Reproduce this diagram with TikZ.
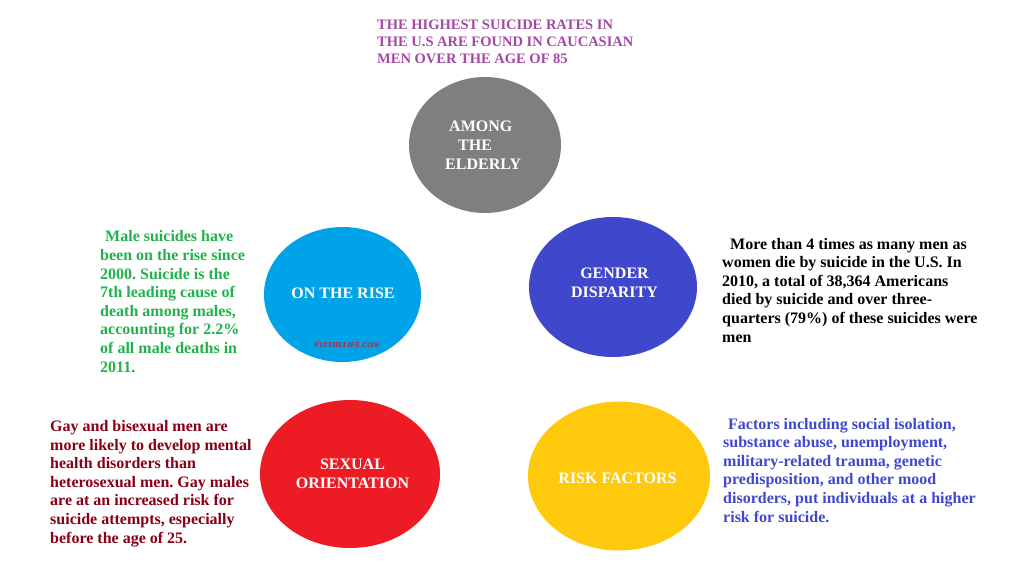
\documentclass[tikz,border=0pt]{standalone}
\usepackage{fontspec}
\setmainfont{Liberation Serif}
\usetikzlibrary{shapes.geometric}
\frenchspacing
\definecolor{elderlygray}{RGB}{127,127,127}
\definecolor{riseblue}{RGB}{0,162,232}
\definecolor{genderblue}{RGB}{63,72,204}
\definecolor{orientred}{RGB}{237,28,36}
\definecolor{riskyellow}{RGB}{255,201,14}
\definecolor{topviolet}{RGB}{163,73,164}
\definecolor{risegreen}{RGB}{34,177,76}
\definecolor{orientmaroon}{RGB}{136,0,21}
\definecolor{markred}{RGB}{200,30,50}
\begin{document}
\begin{tikzpicture}[x=1pt,y=-1pt,
  blob/.style={ellipse,inner sep=0pt},
  tag/.style={text=white,font=\fontsize{16}{19}\selectfont\bfseries,align=center,inner sep=0pt,anchor=base},
  note/.style={font=\fontsize{16}{18.6}\selectfont\bfseries,align=left,inner sep=0pt,anchor=base west}]
\useasboundingbox (0,0) rectangle (1024,570);

\node[blob,fill=elderlygray,minimum width=152,minimum height=136] (elderly) at (485,145) {};
\node[blob,fill=riseblue,minimum width=157,minimum height=135] (rise) at (342.5,294.5) {};
\node[blob,fill=genderblue,minimum width=168,minimum height=140] (gender) at (613,287) {};
\node[blob,fill=orientred,minimum width=180,minimum height=148] (orient) at (350,474) {};
\node[blob,fill=riskyellow,minimum width=182,minimum height=149] (risk) at (619,476) {};

\node[tag,anchor=base west,align=left] (elderlytxt) at (445,169) {\hspace*{4pt}AMONG\\\hspace*{13pt}THE\\ELDERLY};
\node[tag] (risetxt) at (343,298) {ON THE RISE};
\node[tag] (gendertxt) at (614.5,297) {GENDER\\DISPARITY};
\node[tag] (orienttxt) at (352.5,488) {SEXUAL\\ORIENTATION};
\node[tag] (risktxt) at (617.5,483) {RISK FACTORS};
\node[inner sep=0pt,anchor=base,text=markred,font=\fontsize{7.5}{9}\selectfont\bfseries\itshape] (mark) at (347,347) {FIXTHELIFE.COM};

\node[note,text=topviolet,font=\fontsize{14.5}{17}\selectfont\bfseries] (toptxt) at (377,63) {THE HIGHEST SUICIDE RATES IN\\THE U.S ARE FOUND IN CAUCASIAN\\MEN OVER THE AGE OF 85};
\node[note,text=risegreen] (risenote) at (100,372) {\hspace*{5pt}Male suicides have\\been on the rise since\\2000. Suicide is the\\7th leading cause of\\death among males,\\accounting for 2.2\%\\of all male deaths in\\2011.};
\node[note,text=black] (gendernote) at (722,342) {\hspace*{8pt}More than 4 times as many men as\\women die by suicide in the U.S. In\\2010, a total of 38,364 Americans\\died by suicide and over three-\\quarters (79\%) of these suicides were\\men};
\node[note,text=orientmaroon] (orientnote) at (50,543) {Gay and bisexual men are\\more likely to develop mental\\health disorders than\\heterosexual men. Gay males\\are at an increased risk for\\suicide attempts, especially\\before the age of 25.};
\node[note,text=genderblue] (risknote) at (723,522) {\hspace*{5pt}Factors including social isolation,\\substance abuse, unemployment,\\military-related trauma, genetic\\predisposition, and other mood\\disorders, put individuals at a higher\\risk for suicide.};
\end{tikzpicture}
\end{document}
